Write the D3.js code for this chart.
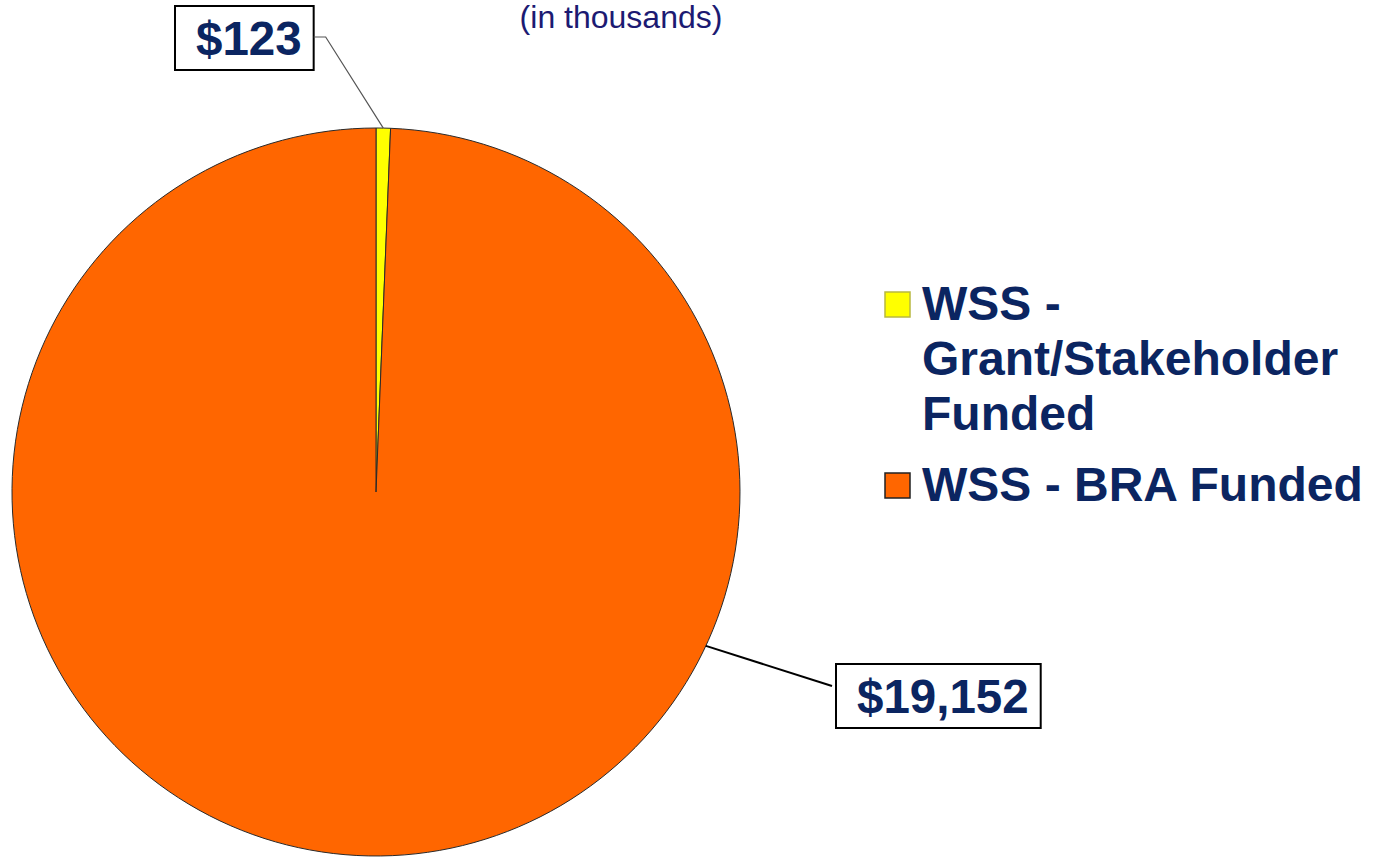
<!DOCTYPE html>
<html>
<head>
<meta charset="utf-8">
<script src="https://cdn.jsdelivr.net/npm/d3@7"></script>
<style>
  html, body { margin: 0; padding: 0; background: #ffffff; }
  svg { display: block; }
</style>
</head>
<body>
<svg id="chart" width="1383" height="857"></svg>
<script>
// ---- data ----
const categories = ["WSS - Grant/Stakeholder Funded", "WSS - BRA Funded"];
const values = [123, 19152];
const legendLines = [["WSS -", "Grant/Stakeholder", "Funded"], ["WSS - BRA Funded"]];
const subtitle = "(in thousands)";
const colors = ["#FFFF00", "#FF6600"];

// ---- layout ----
const cx = 376, cy = 492, R = 364;
const navy = "#0b2561";
const fontFam = "'Liberation Sans', Arial, Helvetica, sans-serif";

const svg = d3.select("#chart");
const data = categories.map((c, i) => ({ cat: c, value: values[i], color: colors[i], lines: legendLines[i] }));

const pie = d3.pie().sort(null).value(d => d.value).startAngle(0).endAngle(2 * Math.PI);
const arcs = pie(data);
const arc = d3.arc().innerRadius(0).outerRadius(R);

const g = svg.append("g").attr("transform", `translate(${cx},${cy})`);
g.selectAll("path.slice").data(arcs).join("path")
  .attr("class", "slice")
  .attr("d", arc)
  .attr("fill", d => d.data.color)
  .attr("stroke", "#2a2a2a")
  .attr("stroke-width", 1);

// subtitle
svg.append("text")
  .attr("x", 621).attr("y", 28)
  .attr("text-anchor", "middle")
  .attr("font-family", fontFam)
  .attr("font-size", 32)
  .attr("fill", "#1c1a72")
  .text(subtitle);

const fmt = d3.format("$,");
const edgePoint = (ang) => [cx + R * Math.sin(ang), cy - R * Math.cos(ang)];

// label boxes
const labelCfg = [
  { box: [175, 6], leader: (bx, by, bw, bh, a) => {
      const p = edgePoint((a.startAngle + a.endAngle) / 2);
      return [[bx + bw, by + 31], [bx + bw + 12, by + 31], p];
    } },
  { box: [836, 664], leader: (bx, by, bw, bh, a) => {
      const p = edgePoint(115 * Math.PI / 180);
      return [p, [bx - 4, by + 22]];
    } }
];

arcs.forEach((a, i) => {
  const cfg = labelCfg[i];
  const lg = svg.append("g");
  const t = lg.append("text")
    .attr("font-family", fontFam)
    .attr("font-weight", "bold")
    .attr("font-size", 47.5)
    .attr("fill", navy)
    .text(fmt(a.data.value));
  const tw = t.node().getComputedTextLength();
  const bw = tw + 33, bh = 64;
  const [bx, by] = cfg.box;
  lg.insert("rect", "text")
    .attr("x", bx).attr("y", by).attr("width", bw).attr("height", bh)
    .attr("fill", "#ffffff").attr("stroke", "#000000").attr("stroke-width", 2);
  t.attr("x", bx + 21).attr("y", by + bh / 2 + 17);
  const pts = cfg.leader(bx, by, bw, bh, a);
  svg.append("path")
    .attr("d", d3.line()(pts))
    .attr("fill", "none")
    .attr("stroke", i === 0 ? "#555555" : "#000000")
    .attr("stroke-width", i === 0 ? 1.2 : 2);
});

// legend
const legend = svg.append("g");
const legY = [292, 473];
const baseStart = [320, 501];
data.forEach((d, i) => {
  legend.append("rect")
    .attr("x", 885).attr("y", legY[i]).attr("width", 25).attr("height", 25)
    .attr("fill", d.color)
    .attr("stroke", i === 0 ? "#b8b840" : "#222222")
    .attr("stroke-width", 1.5);
  const t = legend.append("text")
    .attr("font-family", fontFam)
    .attr("font-weight", "bold")
    .attr("font-size", 48)
    .attr("fill", navy);
  d.lines.forEach((ln, k) => {
    t.append("tspan").attr("x", 922).attr("y", baseStart[i] + k * 55).text(ln);
  });
});
</script>
</body>
</html>
